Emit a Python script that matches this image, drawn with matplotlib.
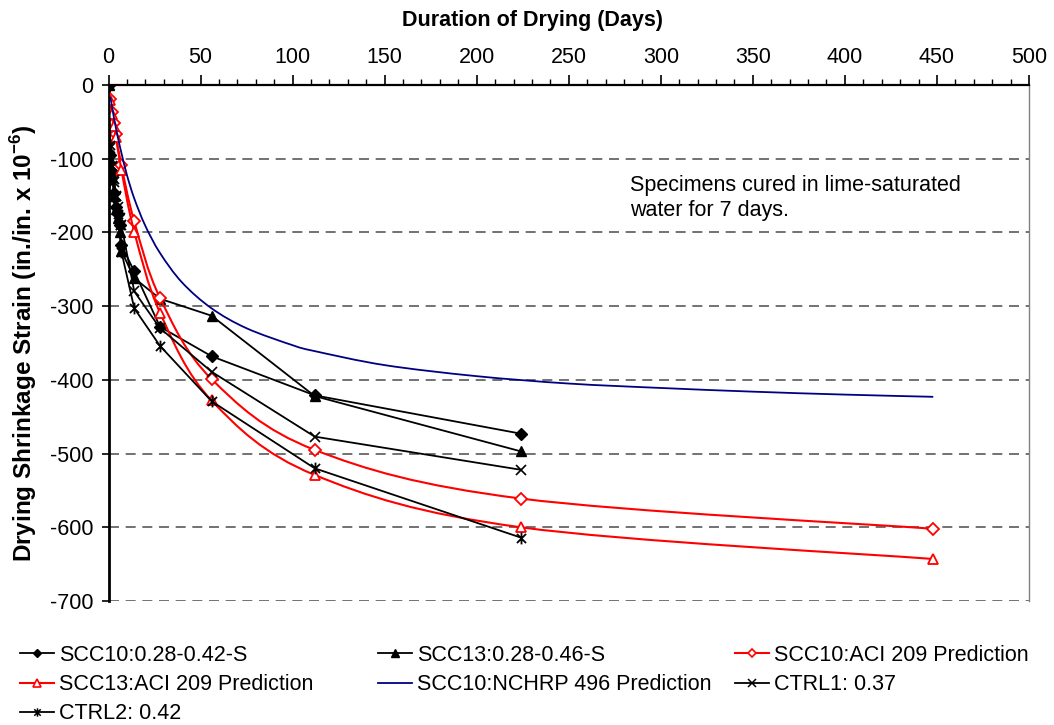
import numpy as np
import matplotlib
matplotlib.use("Agg")
import matplotlib.pyplot as plt
from matplotlib.path import Path
from matplotlib.patches import PathPatch
from matplotlib.lines import Line2D
from matplotlib.ticker import MultipleLocator

plt.rcParams['font.family'] = ['Liberation Sans', 'DejaVu Sans']
plt.rcParams['axes.unicode_minus'] = False
plt.rcParams['mathtext.fontset'] = 'custom'
plt.rcParams['mathtext.rm'] = 'Liberation Sans'
plt.rcParams['mathtext.bf'] = 'Liberation Sans:bold'

# ---- measured shrinkage (microstrain) ----
meas_days = [0, 1, 2, 3, 4, 5, 6, 7, 14, 28, 56, 112, 224]
scc10_meas = [0, -95, -120, -147, -165, -175, -190, -217, -253, -328, -368, -421, -473]
scc13_meas = [0, -100, -125, -150, -168, -180, -200, -225, -262, -290, -313, -422, -497]
ctrl1_meas = [0, -86, -110, -131, -150, -165, -180, -190, -280, -330, -389, -477, -522]
ctrl2_meas = [0, -81, -110, -127, -150, -175, -190, -226, -303, -354, -429, -520, -614]

# ---- ACI 209 predictions ----
aci_days = [1, 2, 3, 4, 7, 14, 28, 56, 112, 224, 448]
scc10_aci = [-19, -37, -52, -67, -109, -185, -289, -399, -495, -561, -602]
scc13_aci = [-21, -40, -56, -70, -115, -199, -309, -428, -529, -600, -643]

# ---- NCHRP 496 prediction ----
nchrp_days = [1, 3, 5, 7, 10, 14, 20, 28, 40, 56, 75, 100, 112, 150, 200, 250, 300, 350, 400, 448]
scc10_nchrp = [-16, -45, -70, -92, -122, -154, -191, -228, -268, -303, -330, -353, -361,
               -380, -395, -405, -411, -416, -420, -423]

x_ticks = [0, 50, 100, 150, 200, 250, 300, 350, 400, 450, 500]
y_ticks = [0, -100, -200, -300, -400, -500, -600, -700]
y_tick_labels = ['0', '-100', '-200', '-300', '-400', '-500', '-600', '-700']

W, H = 1054, 725
fig = plt.figure(figsize=(W / 100, H / 100), dpi=100)
L, R, T, B = 108.5, 1029, 85, 601
ax = fig.add_axes([L / W, 1 - B / H, (R - L) / W, (B - T) / H])
ax.set_xlim(0, 500)
ax.set_ylim(-700, 0)

FS = 15.5

# axes frame
ax.spines['left'].set_linewidth(2.0)
ax.spines['left'].set_color('black')
ax.spines['top'].set_linewidth(1.6)
ax.spines['top'].set_color('black')
ax.spines['right'].set_color('#808080')
ax.spines['right'].set_linewidth(1.0)
ax.spines['bottom'].set_visible(False)

ax.xaxis.tick_top()
ax.xaxis.set_label_position('top')
ax.set_xticks(x_ticks)
ax.xaxis.set_minor_locator(MultipleLocator(10))
ax.tick_params(axis='x', which='major', direction='out', length=7, width=1.2,
               labelsize=FS, pad=5)
ax.tick_params(axis='x', which='minor', direction='out', length=4, width=1.0)
ax.set_yticks(y_ticks)
ax.set_yticklabels(y_tick_labels)
ax.tick_params(axis='y', which='major', direction='out', length=5, width=1.2,
               labelsize=FS, pad=6)

ax.yaxis.grid(True, linestyle=(0, (6, 4)), color='#5a5a5a', linewidth=1.2)
ax.set_axisbelow(True)

ax.set_xlabel('Duration of Drying (Days)', fontsize=FS, fontweight='bold')
ax.xaxis.set_label_coords(0.461, 1.114)
ax.set_ylabel(r'Drying Shrinkage Strain (in./in. x 10$^{\mathbf{-6}}$)',
              fontsize=17.5, fontweight='bold')
ax.yaxis.set_label_coords(-0.0756, 0.5)


def smooth_path(xs, ys):
    """Bezier path through the points, smoothed in display space."""
    pts = ax.transData.transform(np.column_stack([xs, ys]))
    n = len(pts)
    verts = [pts[0]]
    codes = [Path.MOVETO]
    for i in range(n - 1):
        p0 = pts[i - 1] if i > 0 else pts[i]
        p1 = pts[i]
        p2 = pts[i + 1]
        p3 = pts[i + 2] if i + 2 < n else pts[i + 1]
        c1 = p1 + (p2 - p0) / 6.0
        c2 = p2 - (p3 - p1) / 6.0
        verts += [c1, c2, p2]
        codes += [Path.CURVE4] * 3
    verts = ax.transData.inverted().transform(np.array(verts))
    return Path(verts, codes)


# asterisk marker: an x with a vertical bar
star_marker = Path(
    [(-1, -1), (1, 1), (-1, 1), (1, -1), (0, -1.3), (0, 1.3)],
    [Path.MOVETO, Path.LINETO, Path.MOVETO, Path.LINETO, Path.MOVETO, Path.LINETO])

RED = '#ff0000'
BLUE = '#000080'

# series in drawing order
ax.plot(meas_days, scc10_meas, color='black', lw=1.3, marker='D', ms=6,
        mfc='black', mec='black', zorder=3)
ax.plot(meas_days, scc13_meas, color='black', lw=1.3, marker='^', ms=7.5,
        mfc='black', mec='black', zorder=3)

for days, vals, mk, ms in [(aci_days, scc10_aci, 'D', 6), (aci_days, scc13_aci, '^', 7.5)]:
    ax.add_patch(PathPatch(smooth_path(days, vals), fill=False, edgecolor=RED,
                           lw=1.5, zorder=4))
    ax.plot(days, vals, ls='none', marker=mk, ms=ms, mfc='white', mec=RED,
            mew=1.3, zorder=4)

ax.add_patch(PathPatch(smooth_path(nchrp_days, scc10_nchrp), fill=False,
                       edgecolor=BLUE, lw=1.3, zorder=4))

ax.plot(meas_days, ctrl1_meas, color='black', lw=1.3, marker='x', ms=7.5,
        mew=1.2, zorder=5)
ax.plot(meas_days, ctrl2_meas, color='black', lw=1.3, marker=star_marker, ms=8.5,
        mew=1.3, zorder=5)

ax.text(0.5665, 0.8256, 'Specimens cured in lime-saturated\nwater for 7 days.',
        transform=ax.transAxes, fontsize=FS, ha='left', va='top', linespacing=1.25)

# legend handles
h_scc10 = Line2D([], [], color='black', lw=1.3, marker='D', ms=4.5, mfc='black')
h_scc13 = Line2D([], [], color='black', lw=1.3, marker='^', ms=5.5, mfc='black')
h_aci10 = Line2D([], [], color=RED, lw=1.5, marker='D', ms=4.5, mfc='white', mec=RED, mew=1.2)
h_aci13 = Line2D([], [], color=RED, lw=1.5, marker='^', ms=5.5, mfc='white', mec=RED, mew=1.2)
h_nchrp = Line2D([], [], color=BLUE, lw=1.3)
h_ctrl1 = Line2D([], [], color='black', lw=1.3, marker='x', ms=5.5, mew=1.1)
h_ctrl2 = Line2D([], [], color='black', lw=1.3, marker=star_marker, ms=6, mew=1.1)

legend_cols = [
    (20, [h_scc10, h_aci13, h_ctrl2],
     ['SCC10:0.28-0.42-S', 'SCC13:ACI 209 Prediction', 'CTRL2: 0.42']),
    (378, [h_scc13, h_nchrp], ['SCC13:0.28-0.46-S', 'SCC10:NCHRP 496 Prediction']),
    (735, [h_aci10, h_ctrl1], ['SCC10:ACI 209 Prediction', 'CTRL1: 0.37']),
]
for x0, hs, ls in legend_cols:
    fig.legend(hs, ls, loc='upper left', bbox_to_anchor=(x0 / W, 1 - 645 / H),
               frameon=False, fontsize=FS, handlelength=1.6, handletextpad=0.2,
               borderpad=0, borderaxespad=0, labelspacing=0.38)

fig.savefig('out.png', dpi=100)
